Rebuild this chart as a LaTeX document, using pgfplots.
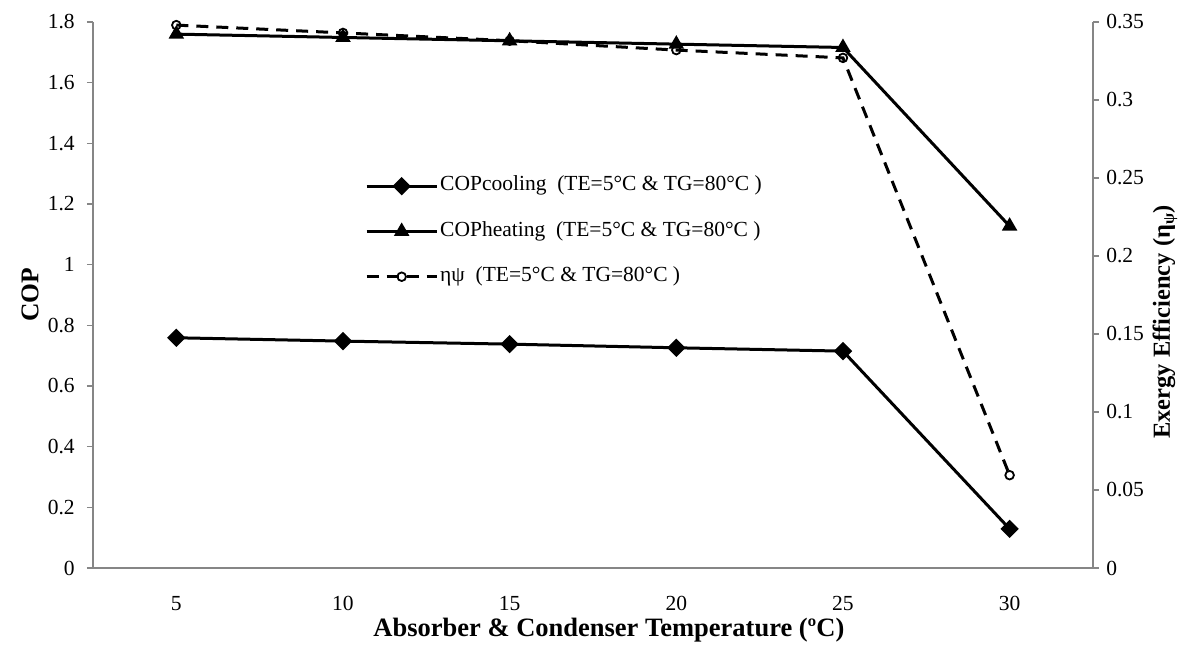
\documentclass[border=0pt]{standalone}
\usepackage{pgfplots}
\pgfplotsset{compat=1.18}
\usepackage{fontspec}
\setmainfont{Liberation Serif}
\definecolor{axgray}{RGB}{134,134,134}
\pgfplotsset{
  common/.style={
    scale only axis, width=1000pt, height=546pt,
    xmin=-0.5, xmax=5.5,
    axis line style={axgray, line width=1.3pt, -},
    tick style={axgray, line width=1.3pt},
    tick align=outside,
    major tick length=6pt,
    /pgf/number format/assume math mode=true,
    ticklabel style={font=\fontsize{21.5}{24}\selectfont, black},
  },
}
\begin{document}
\fontsize{21.5}{24}\selectfont
\begin{tikzpicture}
\path[use as bounding box] (-93pt,-89pt) rectangle (1102pt,568pt);
\begin{axis}[common,
  ymin=0, ymax=1.8,
  axis x line*=bottom, axis y line*=left,
  xtick={0,1,2,3,4,5},
  xticklabels={5,10,15,20,25,30},
  x tick style={draw=none},
  extra x ticks={-0.5,0.5,1.5,2.5,3.5,4.5,5.5},
  extra x tick labels={},
  extra x tick style={tick style={axgray, line width=1.3pt}, major tick length=6pt},
  xticklabel style={yshift=-15pt},
  ytick={0,0.2,0.4,0.6,0.8,1,1.2,1.4,1.6,1.8},
  yticklabels={0,0.2,0.4,0.6,0.8,1,1.2,1.4,1.6,1.8},
  yticklabel style={xshift=-5pt},
  every axis y label/.style={at={(axis description cs:-0.063,0.5)}, rotate=90, anchor=center},
  ylabel={\fontsize{25.5}{28}\selectfont\bfseries COP},
  every axis x label/.style={at={(axis description cs:0.516,-0.114)}, anchor=center},
  xlabel={\fontsize{26.5}{29}\selectfont\bfseries Absorber \& Condenser Temperature (ºC)},
  legend style={at={(axis description cs:0.272,0.722)}, anchor=north west, draw=none, fill=none,
    font=\fontsize{21.5}{24}\selectfont, row sep=21pt, inner sep=0pt,
    nodes={inner sep=2pt, text depth=0.25em}},
  legend cell align=left,
  legend image code/.code={\draw[mark repeat=2,mark phase=2,#1] plot coordinates {(0pt,0pt) (35pt,0pt) (70pt,0pt)};},
]
\addplot[black, line width=3pt, mark=square*, mark size=5pt, mark options={rotate=45, solid, fill=black}]
  coordinates {(0,0.759) (1,0.748) (2,0.738) (3,0.726) (4,0.715) (5,0.129)};
\addlegendentry{COPcooling\ \ (TE=5°C \& TG=80°C\ )}
\addplot[black, line width=3pt, mark=triangle*, mark size=6pt, mark options={solid, fill=black}]
  coordinates {(0,1.760) (1,1.749) (2,1.738) (3,1.727) (4,1.716) (5,1.127)};
\addlegendentry{COPheating\ \ (TE=5°C \& TG=80°C\ )}
\addlegendimage{black, line width=3pt, dash pattern=on 12pt off 8pt, mark=o, mark size=4.3pt, mark options={solid, fill=white, line width=1.8pt}}
\addlegendentry{ηψ\ \ (TE=5°C \& TG=80°C\ )}
\end{axis}
\begin{axis}[common,
  ymin=0, ymax=0.35,
  axis x line=none, axis y line*=right,
  ytick={0,0.05,0.1,0.15,0.2,0.25,0.3,0.35},
  yticklabels={0,0.05,0.1,0.15,0.2,0.25,0.3,0.35},
  yticklabel style={xshift=0pt},
  every axis y label/.style={at={(axis description cs:1.072,0.45)}, rotate=90, anchor=center},
  ylabel={\fontsize{24.5}{27}\selectfont\bfseries Exergy Efficiency (η\raisebox{-0.35ex}{\fontsize{16}{17}\selectfont ψ})},
]
\addplot[black, line width=3pt, dash pattern=on 12pt off 8pt, mark=o, mark size=4.3pt, mark options={solid, fill=white, line width=1.8pt}]
  coordinates {(0,0.348) (1,0.343) (2,0.338) (3,0.332) (4,0.327) (5,0.0595)};
\end{axis}
\end{tikzpicture}
\end{document}
